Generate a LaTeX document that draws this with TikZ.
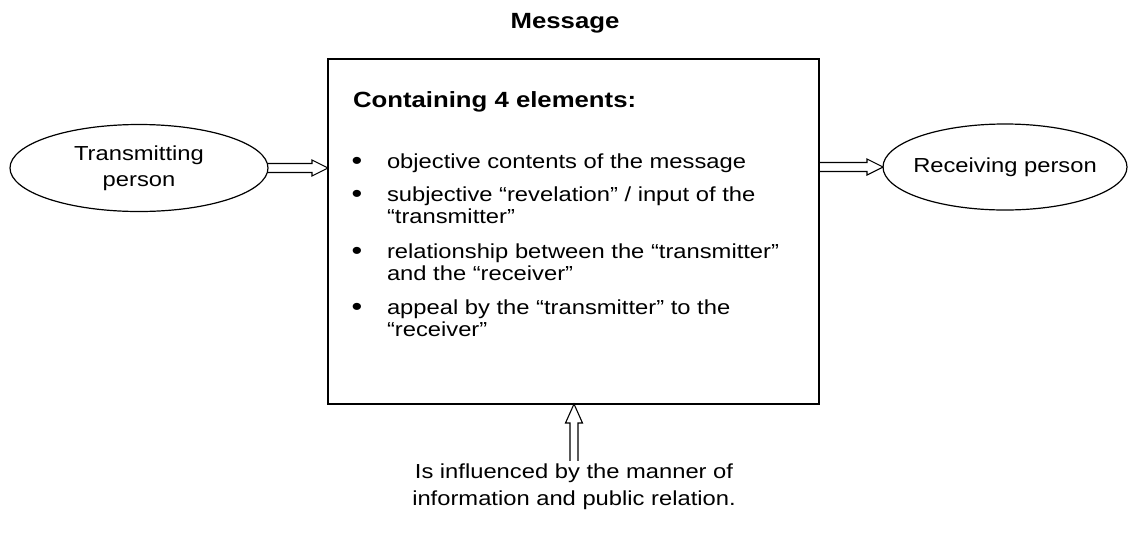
\documentclass[tikz,border=0pt]{standalone}
\usepackage{fontspec}
\setmainfont{Liberation Sans}[FakeStretch=1.17]
\usetikzlibrary{calc,shapes.geometric}
\newcommand\bodyfont{\fontsize{20.3}{22}\selectfont}
\newcommand\loosefont{\fontsize{20.3}{26.5}\selectfont}
\newcommand\headfont{\fontsize{22}{24}\selectfont\bfseries}
\newcommand\dotfont{\fontsize{26}{26}\selectfont}
\begin{document}
\begin{tikzpicture}[x=1pt,y=-1pt,
  every node/.style={inner sep=0pt, outer sep=0pt},
  ell/.style={draw, ellipse, line width=1.2pt, minimum width=258pt, minimum height=87pt, align=center, font=\loosefont},
  frame/.style={draw, line width=1.3pt, minimum width=491pt, minimum height=345pt, anchor=north west},
  item/.style={anchor=base west, align=left, font=\bodyfont},
  dot/.style={anchor=base, font=\dotfont},
  blk/.style={draw, line width=1.1pt, line join=miter}]
\useasboundingbox (0,0) rectangle (1130,539);

\node[font=\headfont] (msg) at (565,23) {Message};
\node[frame] (box) at (328,59) {};

\node[ell] (tx) at (139,168) {Transmitting\\person};
\node[ell, minimum width=244pt, minimum height=86pt, inner xsep=-6pt] (rx) at (1005,167) {Receiving person};

\node[anchor=base west, font=\headfont] (head) at (353,107) {Containing 4 elements:};

\node[dot] (d1) at (357,169) {•};
\node[item] (b1) at (387,168) {objective contents of the message};
\node[dot] (d2) at (357,202) {•};
\node[item] (b2) at (387,223) {subjective “revelation” / input of the\\“transmitter”};
\node[dot] (d3) at (357,259) {•};
\node[item] (b3) at (387,280) {relationship between the “transmitter”\\and the “receiver”};
\node[dot] (d4) at (357,315) {•};
\node[item] (b4) at (387,336) {appeal by the “transmitter” to the\\“receiver”};

\node[anchor=base, align=center, font=\loosefont] (note) at (574,505) {Is influenced by the manner of\\information and public relation.};

% connectors
\coordinate (a1s) at (tx.east);
\coordinate (a1e) at (tx.east -| box.west);
\draw[blk] ($(a1s)+(0,-4.5)$) -- ($(a1e)+(-16,-4.5)$) -- ($(a1e)+(-16,-8)$) -- (a1e)
  -- ($(a1e)+(-16,8)$) -- ($(a1e)+(-16,4.5)$) -- ($(a1s)+(0,4.5)$);

\coordinate (a2e) at (rx.west);
\coordinate (a2s) at (rx.west -| box.east);
\draw[blk] ($(a2s)+(0,-4.5)$) -- ($(a2e)+(-16,-4.5)$) -- ($(a2e)+(-16,-8)$) -- (a2e)
  -- ($(a2e)+(-16,8)$) -- ($(a2e)+(-16,4.5)$) -- ($(a2s)+(0,4.5)$);

\coordinate (a3e) at (note.north |- box.south);
\coordinate (a3s) at ($(note.north)+(0,-3)$);
\draw[blk] ($(a3s)+(-4,0)$) -- ($(a3e)+(-4,19)$) -- ($(a3e)+(-8.5,19)$) -- (a3e)
  -- ($(a3e)+(8.5,19)$) -- ($(a3e)+(4,19)$) -- ($(a3s)+(4,0)$);
\end{tikzpicture}
\end{document}
